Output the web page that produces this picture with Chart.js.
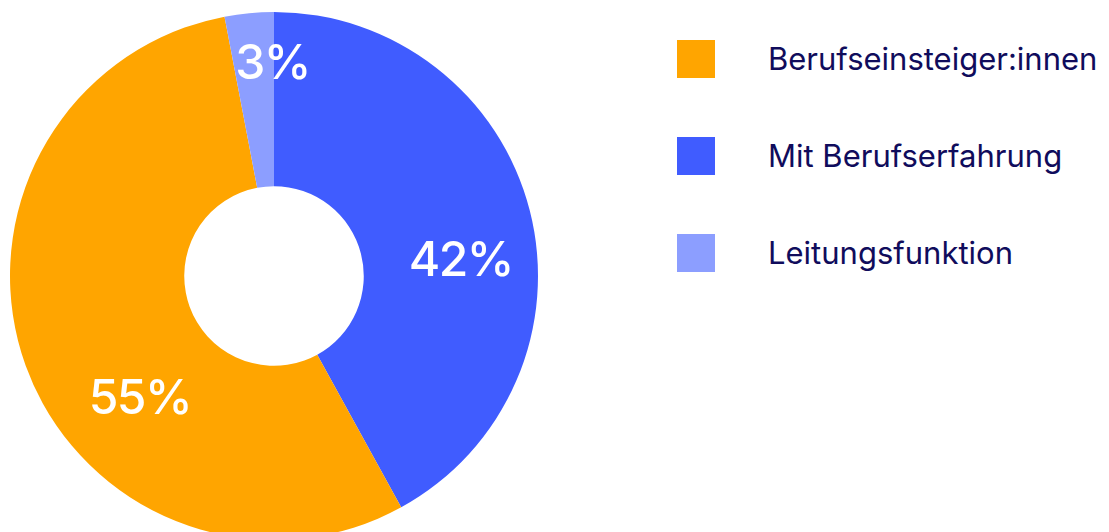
<!DOCTYPE html>
<html>
<head>
<meta charset="utf-8">
<script src="https://cdn.jsdelivr.net/npm/chart.js@4.4.1/dist/chart.umd.min.js"></script>
<style>
  html, body { margin: 0; padding: 0; background: #fff; overflow: hidden; width: 1109px; height: 532px; }
  #wrap { position: absolute; left: 0; top: 0; width: 548px; height: 552px; }
  #legend { position: absolute; left: 677px; top: 40px; font-family: Inter, sans-serif; font-size: 31px; color: #100c5c; }
  .item { display: flex; align-items: center; height: 38px; margin-bottom: 59px; }
  .box { width: 38px; height: 38px; margin-right: 53px; }
  .item span { position: relative; top: -1px; }
</style>
</head>
<body>
<div id="wrap"><canvas id="mycanvas"></canvas></div>
<div id="legend"></div>
<script>
// legend order
var categories = ['Berufseinsteiger:innen', 'Mit Berufserfahrung', 'Leitungsfunktion'];
var shares = [55, 42, 3];
var colors = ['#FFA500', '#405CFF', '#8C9EFF'];

// clockwise order from the top in the picture
var drawOrder = [1, 0, 2];
// hand placement of the percent labels (degrees off slice middle, fraction of radius)
var labelShift = [10.1, -22.8, 5];
var labelRadius = [0.71, 0.69, 0.8];

var legend = document.getElementById('legend');
for (var i = 0; i < categories.length; i++) {
	var row = document.createElement('div');
	row.className = 'item';
	row.innerHTML = '<div class="box" style="background:' + colors[i] + '"></div><span>' + categories[i] + '</span>';
	legend.appendChild(row);
}

var percentLabels = {
	id: 'percentLabels',
	afterDatasetsDraw: function(chart) {
		var ctx = chart.ctx;
		var meta = chart.getDatasetMeta(0);
		ctx.save();
		ctx.fillStyle = '#ffffff';
		ctx.font = '500 48px Inter, sans-serif';
		ctx.letterSpacing = '-1.5px';
		ctx.textAlign = 'center';
		ctx.textBaseline = 'middle';
		meta.data.forEach(function(arc, j) {
			var mid = (arc.startAngle + arc.endAngle) / 2 + labelShift[j] * Math.PI / 180;
			var r = arc.outerRadius * labelRadius[j];
			ctx.fillText(chart.data.datasets[0].data[j] + '%', arc.x + r * Math.cos(mid), arc.y + r * Math.sin(mid));
		});
		ctx.restore();
	}
};

var ctx = document.getElementById('mycanvas');
var chart = new Chart(ctx, {
	type: 'doughnut',
	data: {
		labels: drawOrder.map(function(k) { return categories[k]; }),
		datasets: [{
			data: drawOrder.map(function(k) { return shares[k]; }),
			backgroundColor: drawOrder.map(function(k) { return colors[k]; }),
			borderWidth: 0
		}]
	},
	options: {
		responsive: true,
		maintainAspectRatio: false,
		animation: false,
		cutout: '34%',
		rotation: 0,
		layout: { padding: { left: 10, right: 10, top: 12, bottom: 12 } },
		plugins: {
			legend: { display: false },
			tooltip: { enabled: false }
		}
	},
	plugins: [percentLabels]
});
</script>
</body>
</html>
